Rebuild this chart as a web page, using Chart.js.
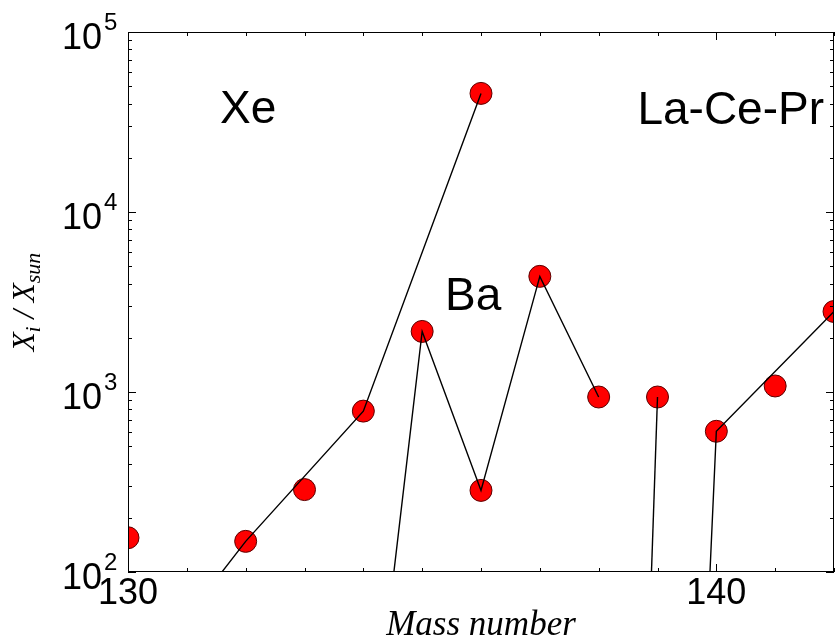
<!DOCTYPE html>
<html>
<head>
<meta charset="utf-8">
<script src="https://cdn.jsdelivr.net/npm/chart.js@4.4.0/dist/chart.umd.min.js"></script>
<style>
    html, body { margin: 0; padding: 0; background: #fff; }
    #wrap { width: 836px; height: 643px; }
</style>
</head>
<body>
<div id="wrap"><canvas id="chart" width="836" height="643"></canvas></div>
<script>
// Isotope chains (mass number, X_i / X_sun)
var xeMass = [131, 132, 134, 136];
var xeVals = [56, 148, 783, 45600];
var baMass = [134, 135, 136, 137, 138];
var baVals = [3.6, 2170, 284, 4390, 938];
var laMass = [138, 139];
var laVals = [3e-7, 938];
var ceMass = [138, 140, 142];
var ceVals = [2e-12, 605, 2800];
// single points with no line through them
var soloMass = [130, 133, 141];
var soloVals = [155, 287, 1080];

var xLabels = [130, 140];
var yExponents = [2, 3, 4, 5];
var groupNames = ["Xe", "Ba", "La-Ce-Pr"];

function toPoints(mass, vals) {
    return mass.map(function (m, i) { return { x: m, y: vals[i] }; });
}

var allMarkers = [].concat(
    toPoints(xeMass, xeVals), toPoints(baMass, baVals),
    toPoints(laMass, laVals), toPoints(ceMass, ceVals),
    toPoints(soloMass, soloVals)
);

function chainSet(mass, vals) {
    return {
        data: toPoints(mass, vals),
        showLine: true,
        borderColor: "#000",
        borderWidth: 1.4,
        pointRadius: 0,
        order: 0
    };
}

// frame, inward ticks, y labels with exponents, axis title and group names
var decorPlugin = {
    id: "decor",
    afterDatasetsDraw: function (chart) {
        var ctx = chart.ctx, a = chart.chartArea;
        var xs = chart.scales.x, ys = chart.scales.y;
        ctx.save();
        ctx.strokeStyle = "#000";
        ctx.lineWidth = 1;
        ctx.strokeRect(a.left + 0.5, a.top + 0.5, a.right - a.left - 1, a.bottom - a.top - 1);
        ctx.beginPath();
        for (var m = 130; m <= 142; m++) {
            var px = Math.round(xs.getPixelForValue(m)) + 0.5;
            var len = (m % 10 === 0) ? 8 : 4;
            ctx.moveTo(px, a.bottom); ctx.lineTo(px, a.bottom - len);
            ctx.moveTo(px, a.top); ctx.lineTo(px, a.top + len);
        }
        for (var d = 2; d <= 5; d++) {
            for (var k = 1; k < 10; k++) {
                if (d === 5 && k > 1) break;
                var py = Math.round(ys.getPixelForValue(k * Math.pow(10, d))) + 0.5;
                var l = (k === 1) ? 8 : 4;
                ctx.moveTo(a.left, py); ctx.lineTo(a.left + l, py);
                ctx.moveTo(a.right, py); ctx.lineTo(a.right - l, py);
            }
        }
        ctx.stroke();
        ctx.restore();
    },
    afterDraw: function (chart) {
        var ctx = chart.ctx, a = chart.chartArea;
        var ys = chart.scales.y;
        ctx.save();
        ctx.fillStyle = "#000";
        ctx.textBaseline = "alphabetic";
        yExponents.forEach(function (e) {
            var py = ys.getPixelForValue(Math.pow(10, e));
            ctx.font = "36px 'Liberation Sans', Arial, sans-serif";
            ctx.textAlign = "right";
            ctx.fillText("10", 102, py + 17);
            ctx.font = "24px 'Liberation Sans', Arial, sans-serif";
            ctx.textAlign = "left";
            ctx.fillText(String(e), 104, py - 2);
        });

        // y axis title X_i / X_sun
        ctx.translate(34, (a.top + a.bottom) / 2);
        ctx.rotate(-Math.PI / 2);
        var parts = [
            { t: "X", f: "italic 31px 'Liberation Serif', serif", dy: 0 },
            { t: "i", f: "italic 22px 'Liberation Serif', serif", dy: 6 },
            { t: " / ", f: "italic 31px 'Liberation Serif', serif", dy: 0 },
            { t: "X", f: "italic 31px 'Liberation Serif', serif", dy: 0 },
            { t: "sun", f: "italic 22px 'Liberation Serif', serif", dy: 6 }
        ];
        var total = 0;
        parts.forEach(function (p) { ctx.font = p.f; total += ctx.measureText(p.t).width; });
        var cx = -total / 2;
        parts.forEach(function (p) {
            ctx.font = p.f;
            ctx.textAlign = "left";
            ctx.fillText(p.t, cx, p.dy);
            cx += ctx.measureText(p.t).width;
        });
        ctx.restore();

        ctx.save();
        ctx.fillStyle = "#000";
        ctx.font = "46px 'Liberation Sans', Arial, sans-serif";
        ctx.textBaseline = "alphabetic";
        ctx.textAlign = "left";
        ctx.fillText(groupNames[0], 220, 123);
        ctx.fillText(groupNames[1], 445, 310);
        ctx.textAlign = "right";
        ctx.fillText(groupNames[2], 824, 124);
        ctx.restore();
    }
};

var ctx = document.getElementById("chart").getContext("2d");
var chart = new Chart(ctx, {
    type: "scatter",
    data: {
        datasets: [
            chainSet(xeMass, xeVals),
            chainSet(baMass, baVals),
            chainSet(laMass, laVals),
            chainSet(ceMass, ceVals),
            {
                data: allMarkers,
                showLine: false,
                pointRadius: 11,
                pointHoverRadius: 11,
                pointBackgroundColor: "#ff0000",
                pointBorderColor: "#5a0000",
                pointBorderWidth: 1,
                order: 1
            }
        ]
    },
    options: {
        responsive: false,
        animation: false,
        layout: { autoPadding: false, padding: { top: 32, right: 2, left: 0, bottom: 0 } },
        plugins: {
            legend: { display: false },
            tooltip: { enabled: false }
        },
        scales: {
            x: {
                type: "linear",
                min: 130,
                max: 142,
                afterBuildTicks: function (scale) {
                    scale.ticks = xLabels.map(function (v) { return { value: v }; });
                },
                afterFit: function (scale) {
                    scale.height = 71;
                },
                grid: { display: false, drawTicks: false },
                border: { display: false },
                ticks: {
                    padding: 0,
                    maxRotation: 0,
                    color: "#000",
                    font: { family: "'Liberation Sans', Arial, sans-serif", size: 36 }
                },
                title: {
                    display: true,
                    text: "Mass number",
                    color: "#000",
                    padding: { top: 0, bottom: 0 },
                    font: { family: "'Liberation Serif', serif", style: "italic", size: 35, lineHeight: 1.0 }
                }
            },
            y: {
                type: "logarithmic",
                min: 100,
                max: 100000,
                afterFit: function (scale) { scale.width = 128; },
                grid: { display: false, drawTicks: false },
                border: { display: false },
                ticks: { display: false }
            }
        }
    },
    plugins: [decorPlugin]
});
</script>
</body>
</html>
